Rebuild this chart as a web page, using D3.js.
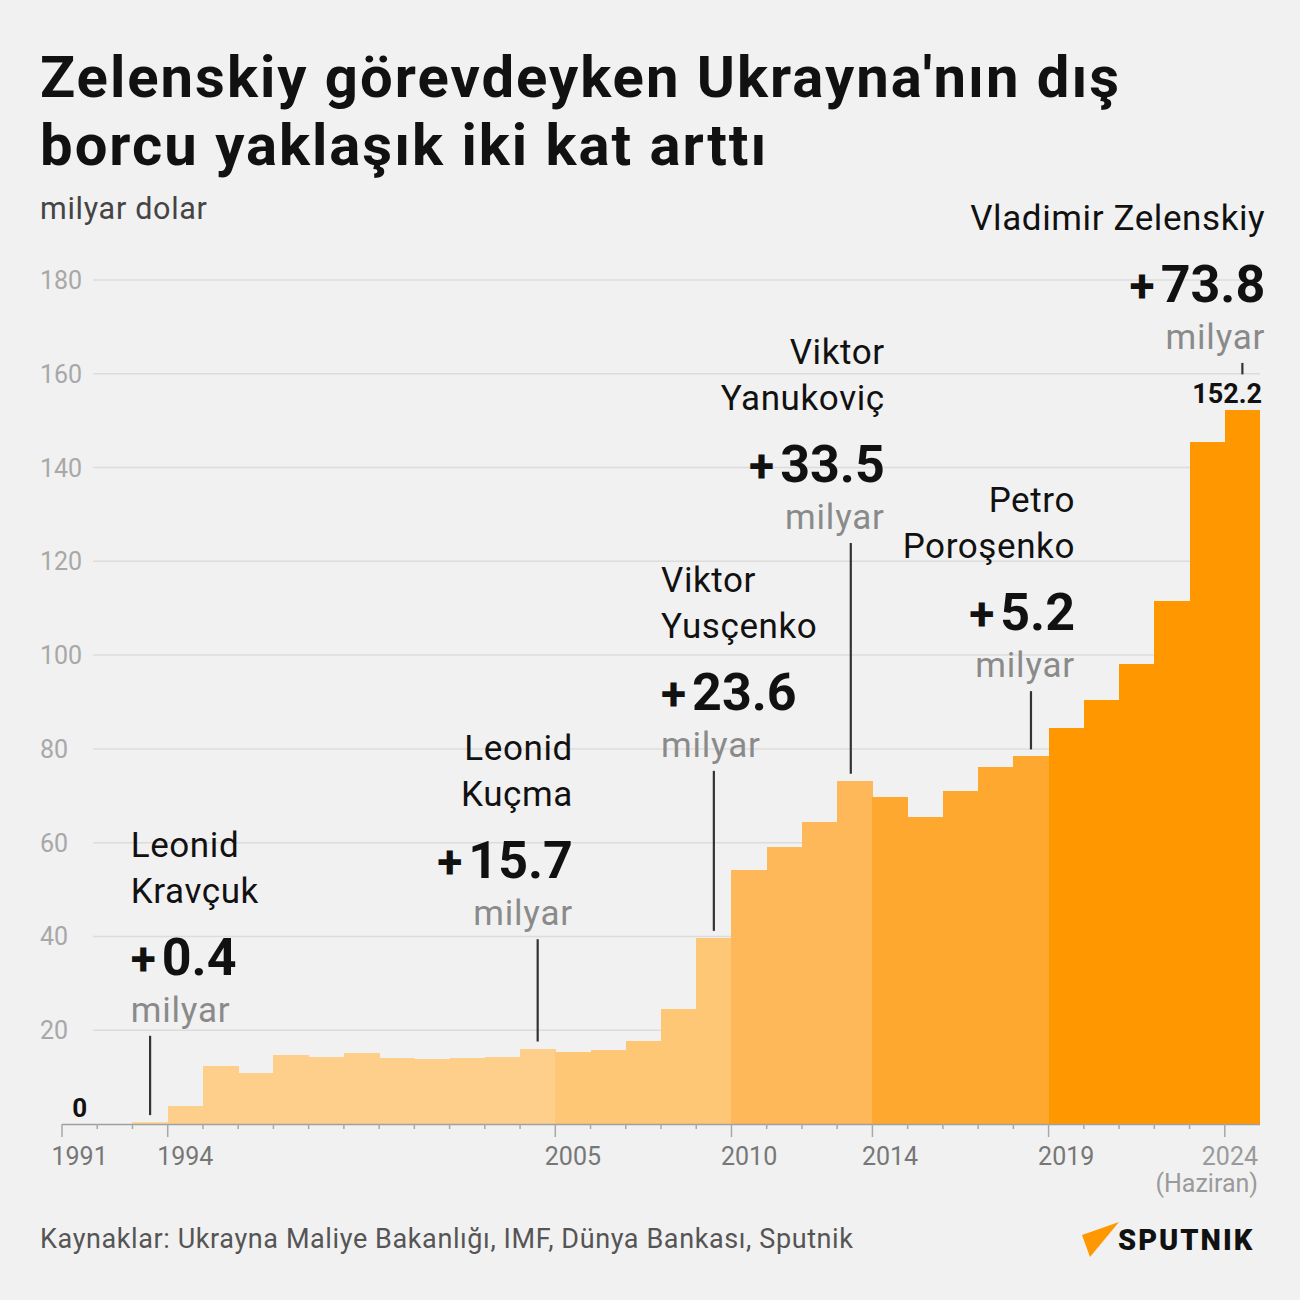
<!DOCTYPE html>
<html><head><meta charset="utf-8">
<script src="https://cdn.jsdelivr.net/npm/d3@7"></script>
<style>
html,body{margin:0;padding:0;background:#f1f1f1;}
svg{display:block;font-family:Roboto,"Noto Sans",sans-serif;}
</style></head>
<body>
<script>
// ---------- data ----------
const years = [1991,1992,1993,1994,1995,1996,1997,1998,1999,2000,2001,2002,2003,2004,2005,2006,2007,2008,2009,2010,2011,2012,2013,2014,2015,2016,2017,2018,2019,2020,2021,2022,2023,2024];
const debt  = [0,0,0.4,3.8,12.4,10.8,14.7,14.2,15.1,14.0,13.9,14.0,14.3,16.1,15.4,15.8,17.6,24.6,39.7,54.2,59.1,64.4,73.2,69.7,65.5,71.0,76.2,78.4,84.5,90.4,98.1,111.6,145.5,152.2];
const presidentNames = [["Leonid","Kravçuk"],["Leonid","Kuçma"],["Viktor","Yusçenko"],["Viktor","Yanukoviç"],["Petro","Poroşenko"],["Vladimir Zelenskiy"]];
const termStart = [1991,1994,2005,2010,2014,2019];
const termEnd   = [1993,2004,2009,2013,2018,2024];
const deltas    = ["0.4","15.7","23.6","33.5","5.2","73.8"];
const yTicks = [20,40,60,80,100,120,140,160,180];
const xMajorTicks = [1991,1994,2005,2010,2014,2019,2024];
const titleLines = ["Zelenskiy görevdeyken Ukrayna'nın dış","borcu yaklaşık iki kat arttı"];
const unitLabel = "milyar";

// ---------- styles / layout ----------
const colors = ["#fdd798","#fecf8b","#fec775","#feb85a","#fea830","#ff9800"];
// label layout: anchor year, text-anchor, level (value) of "milyar" baseline
const labelX = [1992.95,2005.5,2008,2014.35,2019.75,2025.15];
const labelAnchor = ["start","end","start","end","end","end"];
const labelLevel = [21.8,42.4,78.3,126.9,95.3,165.3];
const lineShift = [0,0,0,-4,0,0];

const W=1300,H=1300;
const svg=d3.select("body").append("svg").attr("width",W).attr("height",H);
svg.append("rect").attr("width",W).attr("height",H).attr("fill","#f1f1f1");

const x=d3.scaleLinear().domain([1991,2025]).range([62,1260]);
const y=d3.scaleLinear().domain([0,180]).range([1124,280]);

// title
svg.append("g").selectAll("text").data(titleLines).join("text")
  .attr("x",40).attr("y",(d,i)=>97+i*68)
  .attr("font-weight",700).attr("font-size",58).attr("fill","#111").attr("letter-spacing",2)
  .text(d=>d);
svg.append("text").attr("x",40).attr("y",219).attr("font-size",30.5).attr("letter-spacing",0.7).attr("fill","#444").text("milyar dolar");

// gridlines
svg.append("g").selectAll("line").data(yTicks).join("line")
  .attr("x1",93).attr("x2",1260).attr("y1",d=>y(d)).attr("y2",d=>y(d))
  .attr("stroke","#dcdcdc").attr("stroke-width",1.5);
svg.append("g").selectAll("text").data(yTicks).join("text")
  .attr("x",40).attr("y",d=>y(d)+9).attr("font-size",25).attr("fill","#a8a8a8").text(d=>d);

// bars
const presIdx=yr=>termEnd.findIndex(e=>yr<=e);
svg.append("g").selectAll("rect").data(years).join("rect")
  .attr("x",d=>x(d)).attr("width",d=>x(d+1)-x(d)+0.4)
  .attr("y",(d,i)=>y(debt[i])).attr("height",(d,i)=>y(0)-y(debt[i]))
  .attr("fill",d=>colors[presIdx(d)]).attr("shape-rendering","crispEdges");

// x axis
const ax=svg.append("g");
ax.append("line").attr("x1",x(1991)).attr("x2",x(2025)).attr("y1",y(0)+0.5).attr("y2",y(0)+0.5).attr("stroke","#a0a0a0").attr("stroke-width",1.5);
ax.selectAll("line.t").data(years).join("line").attr("class","t")
  .attr("x1",d=>x(d)).attr("x2",d=>x(d)).attr("y1",y(0)).attr("y2",d=>y(0)+(xMajorTicks.includes(d)?13:5))
  .attr("stroke","#a8a8a8").attr("stroke-width",1.5);
ax.selectAll("text.l").data(xMajorTicks).join("text").attr("class","l")
  .attr("x",d=>d===2024?x(2025)-2:(x(d)+x(d+1))/2)
  .attr("y",1165).attr("text-anchor",d=>d===2024?"end":"middle")
  .attr("font-size",25).attr("fill",d=>d===2024?"#9a9a9a":"#777").text(d=>d);
ax.append("text").attr("x",x(2025)-2).attr("y",1192).attr("text-anchor","end").attr("font-size",25).attr("fill","#9a9a9a").text("(Haziran)");

// zero and last value labels
svg.append("text").attr("x",(x(1991)+x(1992))/2).attr("y",y(0)-7).attr("text-anchor","middle")
  .attr("font-weight",700).attr("font-size",26).attr("fill","#111").text(d3.format("d")(debt[0]));
svg.append("text").attr("x",x(2025)+2).attr("y",y(debt[debt.length-1])-7).attr("text-anchor","end")
  .attr("font-weight",700).attr("font-size",27).attr("fill","#111").text(debt[debt.length-1].toFixed(1));

// annotations
presidentNames.forEach((names,i)=>{
  const g=svg.append("g");
  const lx=x(labelX[i]);
  const base=y(labelLevel[i]);
  const anc=labelAnchor[i];
  g.append("text").attr("x",lx).attr("y",base).attr("text-anchor",anc)
    .attr("font-size",35).attr("letter-spacing",0.8).attr("fill","#8a8a8a").text(unitLabel);
  const dt=g.append("text").attr("x",lx).attr("y",base-47).attr("text-anchor",anc)
    .attr("font-weight",700).attr("font-size",52).attr("fill","#111");
  dt.append("tspan").attr("font-size",46).text("+");
  dt.append("tspan").attr("dx",6).text(deltas[i]);
  names.slice().reverse().forEach((n,k)=>{
    g.append("text").attr("x",lx).attr("y",base-119-k*46).attr("text-anchor",anc)
      .attr("font-size",35).attr("letter-spacing",0.6).attr("fill","#111").text(n);
  });
  const yr=termEnd[i];
  const cx=(x(yr)+x(yr+1))/2+lineShift[i];
  const top = i===presidentNames.length-1 ? y(debt[years.indexOf(yr)])-36 : y(debt[years.indexOf(yr)])-7;
  g.append("line").attr("x1",cx).attr("x2",cx).attr("y1",base+14).attr("y2",top)
    .attr("stroke","#333").attr("stroke-width",2.2);
});

// footer
svg.append("text").attr("x",40).attr("y",1248).attr("font-size",27).attr("letter-spacing",0.6).attr("fill","#555")
  .text("Kaynaklar: Ukrayna Maliye Bakanlığı, IMF, Dünya Bankası, Sputnik");
svg.append("path").attr("d","M1082,1235 L1119,1222 L1090,1257 Z").attr("fill","#ff9800");
svg.append("text").attr("x",1118).attr("y",1250).attr("font-size",29).attr("font-weight",900)
  .attr("fill","#111").attr("letter-spacing",2).text("SPUTNIK");
</script>
</body></html>
